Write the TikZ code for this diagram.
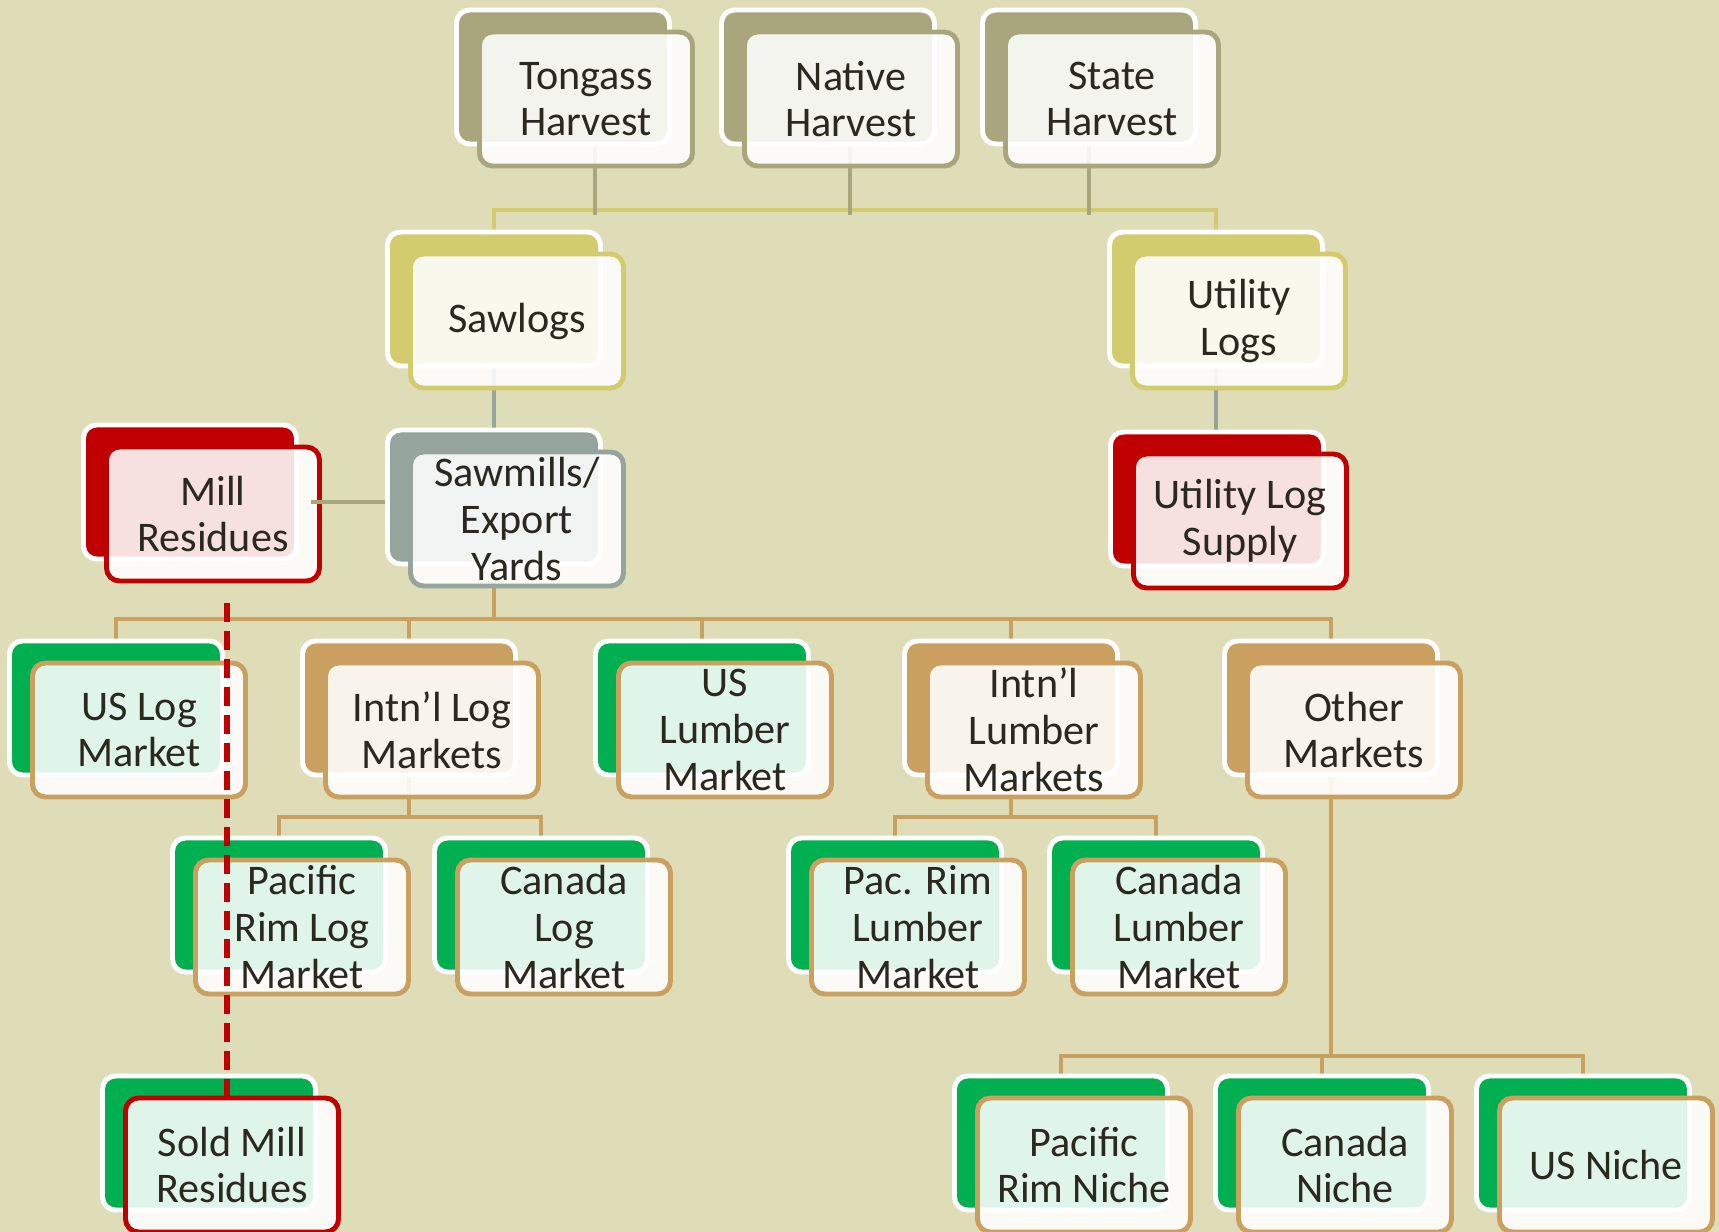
\documentclass[tikz,border=0pt]{standalone}
\usepackage{fontspec}
\setmainfont{Carlito}
\usetikzlibrary{backgrounds}

\definecolor{bgtan}{HTML}{DFDCB8}
\definecolor{harvcol}{HTML}{A9A67E}
\definecolor{sawcol}{HTML}{D3CC6E}
\definecolor{millcol}{HTML}{95A49D}
\definecolor{redcol}{HTML}{C00000}
\definecolor{tancol}{HTML}{C9A060}
\definecolor{greencol}{HTML}{00B050}
\definecolor{txtcol}{HTML}{2B2820}

\tikzset{
  backbox/.style={rectangle, rounded corners=1.3mm, minimum width=2.13cm, minimum height=1.34cm,
    draw=white, line width=1.4pt, inner sep=0pt},
  frontbox/.style={backbox, fill=white, fill opacity=0.88, text opacity=1, text=txtcol,
    align=center, font=\fontsize{12}{13.3}\selectfont, xshift=2.3mm, yshift=-2.2mm},
  con/.style={line width=1.4pt},
}

% back card + front card with the label
\newcommand{\logbox}[5]{%
  \node[backbox, fill=#3] (#1B) at (#2) {};
  \node[frontbox, draw=#4] (#1) at (#2) {#5};
}

\begin{document}
\begin{tikzpicture}
\useasboundingbox (0,0) rectangle (17.19,-12.32);

%harvest
\logbox{tongass}{5.63,-0.77}{harvcol}{harvcol}{Tongass\\Harvest}
\logbox{native}{8.28,-0.77}{harvcol}{harvcol}{Native\\Harvest}
\logbox{state}{10.89,-0.77}{harvcol}{harvcol}{State\\Harvest}
%logs
\logbox{sawlogs}{4.94,-2.99}{sawcol}{sawcol}{Sawlogs}
\logbox{util}{12.16,-2.99}{sawcol}{sawcol}{Utility\\Logs}
%mills
\logbox{mill}{1.90,-4.92}{redcol}{redcol}{Mill\\Residues}
\logbox{smill}{4.94,-4.97}{millcol}{millcol}{Sawmills/\\Export\\Yards}
\logbox{uls}{12.17,-4.99}{redcol}{redcol}{Utility Log\\Supply}
%markets
\logbox{uslog}{1.16,-7.08}{greencol}{tancol}{US Log\\Market}
\logbox{intlog}{4.09,-7.08}{tancol}{tancol}{Intn’l Log\\Markets}
\logbox{uslum}{7.02,-7.08}{greencol}{tancol}{US\\Lumber\\Market}
\logbox{intlum}{10.11,-7.08}{tancol}{tancol}{Intn’l\\Lumber\\Markets}
\logbox{other}{13.31,-7.08}{tancol}{tancol}{Other\\Markets}
%intl markets
\logbox{pacrim}{2.79,-9.05}{greencol}{tancol}{Pacific\\Rim Log\\Market}
\logbox{canlog}{5.41,-9.05}{greencol}{tancol}{Canada\\Log\\Market}
\logbox{pacrimlum}{8.95,-9.05}{greencol}{tancol}{Pac. Rim\\Lumber\\Market}
\logbox{canlum}{11.56,-9.05}{greencol}{tancol}{Canada\\Lumber\\Market}
%bottom row
\logbox{sold}{2.09,-11.43}{greencol}{redcol}{Sold Mill\\Residues}
\logbox{pniche}{10.61,-11.43}{greencol}{tancol}{Pacific\\Rim Niche}
\logbox{cniche}{13.22,-11.43}{greencol}{tancol}{Canada\\Niche}
\logbox{usniche}{15.83,-11.43}{greencol}{tancol}{US Niche}

\coordinate (topbus) at (0,-2.10);
\coordinate (lvlbus) at (0,-6.19);
\coordinate (logbus) at (0,-8.17);
\coordinate (nichebus) at (0,-10.56);

\begin{scope}[on background layer]
\fill[bgtan] (0,0) rectangle (17.19,-12.32); %background
\draw[con,sawcol] (sawlogsB.north) -- (sawlogsB.north |- topbus) -| (utilB.north);
\draw[con,harvcol] ([xshift=3.2mm]tongassB.south) -- ([xshift=3.2mm,yshift=-0.5mm]tongassB.south |- topbus);
\draw[con,harvcol] ([xshift=2.2mm]nativeB.south) -- ([xshift=2.2mm,yshift=-0.5mm]nativeB.south |- topbus);
\draw[con,harvcol] (stateB.south) -- ([yshift=-0.5mm]stateB.south |- topbus);
\draw[con,millcol] (sawlogsB.south) -- (smillB.north);
\draw[con,millcol] (utilB.south) -- (utilB.south |- ulsB.north);
\draw[con,tancol] (smillB.south) -- (smillB.south |- lvlbus);
\draw[con,tancol] (uslogB.north) -- (uslogB.north |- lvlbus) -| (otherB.north);
\foreach \n in {intlog,uslum,intlum}
  \draw[con,tancol] (\n B.north) -- (\n B.north |- lvlbus);
\draw[con,tancol] (intlogB.south) -- (intlogB.south |- logbus);
\draw[con,tancol] (pacrimB.north) -- (pacrimB.north |- logbus) -| (canlogB.north);
\draw[con,tancol] (intlumB.south) -- (intlumB.south |- logbus);
\draw[con,tancol] (pacrimlumB.north) -- (pacrimlumB.north |- logbus) -| (canlumB.north);
\draw[con,tancol] (otherB.south) -- (otherB.south |- nichebus);
\draw[con,tancol] (pnicheB.north) -- (pnicheB.north |- nichebus) -| (usnicheB.north);
\draw[con,tancol] (cnicheB.north) -- (cnicheB.north |- nichebus);
\end{scope}

\draw[con,harvcol] ([xshift=1.2mm,yshift=-1mm]millB.east) -- ([yshift=-1mm]millB.east -| smillB.west); %residues link
\draw[line width=1.5pt,redcol,dash pattern=on 1.9mm off 0.9mm] ([xshift=1.4mm,yshift=-2mm]mill.south) -- ([xshift=1.4mm]mill.south |- sold.north); %sold residues
\end{tikzpicture}
\end{document}
